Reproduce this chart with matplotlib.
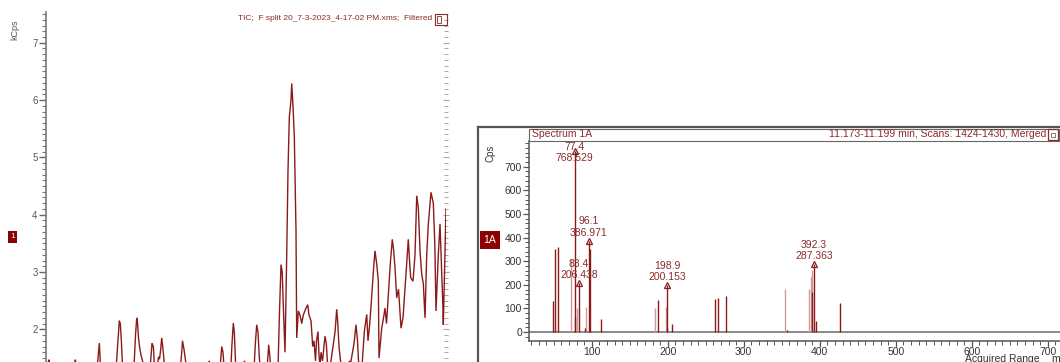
import matplotlib
matplotlib.use("Agg")
import matplotlib.pyplot as plt
from matplotlib.ticker import MultipleLocator, FixedLocator
from matplotlib.patches import Rectangle
from matplotlib.lines import Line2D

plt.rcParams['font.family'] = ['Liberation Sans', 'DejaVu Sans']

# --- TIC chromatogram (retention time in min, intensity in kCps) ---
tic_time = [5.000, 5.075, 5.100, 5.700, 5.733, 5.763, 6.275, 6.333, 6.363, 6.388,
            6.750, 6.800, 6.833, 6.858, 6.888, 6.913, 6.950, 7.075, 7.100, 7.125,
            7.200, 7.238, 7.268, 7.288, 7.313, 7.338, 7.375, 7.413, 7.450, 7.600,
            7.650, 7.683, 7.713, 7.775, 7.813, 7.838, 7.863, 7.893, 7.918, 7.950,
            7.975, 8.350, 8.388, 8.413, 8.450, 8.488, 8.513, 8.538, 9.050, 9.083,
            9.113, 9.350, 9.393, 9.425, 9.450, 9.475, 9.625, 9.650, 9.683, 9.708,
            9.725, 9.743, 9.775, 9.925, 9.963, 9.988, 10.200, 10.238, 10.268, 10.300,
            10.333, 10.363, 10.525, 10.568, 10.600, 10.625, 10.800, 10.833, 10.875, 10.905,
            10.933, 10.975, 11.018, 11.050, 11.083, 11.125, 11.143, 11.175, 11.208, 11.250,
            11.268, 11.308, 11.350, 11.393, 11.433, 11.500, 11.543, 11.575, 11.625, 11.668,
            11.700, 11.738, 11.763, 11.800, 11.825, 11.850, 11.875, 11.913, 11.975, 12.008,
            12.038, 12.075, 12.125, 12.175, 12.225, 12.268, 12.295, 12.325, 12.363, 12.400,
            12.550, 12.588, 12.613, 12.650, 12.700, 12.750, 12.788, 12.813, 12.850, 12.900,
            12.958, 13.018, 13.050, 13.088, 13.125, 13.183, 13.225, 13.268, 13.308, 13.325,
            13.393, 13.438, 13.475, 13.513, 13.575, 13.613, 13.658, 13.688, 13.725, 13.768,
            13.813, 13.875, 13.925, 13.975, 14.013, 14.058, 14.088, 14.118, 14.175, 14.225,
            14.268, 14.308, 14.350, 14.393, 14.433, 14.475, 14.518, 14.558, 14.625, 14.683,
            14.720, 14.750, 14.808, 14.850, 14.888, 14.918, 14.933, 14.975, 15.000]
tic_kcps = [1.30, 1.47, 1.30, 1.30, 1.47, 1.30, 1.30, 1.76, 1.35, 1.30,
            1.30, 1.80, 2.15, 2.10, 1.75, 1.35, 1.30, 1.30, 1.42, 1.30,
            1.35, 1.90, 2.20, 2.12, 1.85, 1.70, 1.55, 1.45, 1.30, 1.30,
            1.76, 1.70, 1.35, 1.30, 1.52, 1.48, 1.62, 1.85, 1.70, 1.45,
            1.30, 1.30, 1.55, 1.80, 1.65, 1.45, 1.35, 1.30, 1.30, 1.45,
            1.30, 1.30, 1.70, 1.60, 1.35, 1.30, 1.40, 1.75, 2.11, 1.95,
            1.65, 1.35, 1.30, 1.30, 1.45, 1.30, 1.30, 1.80, 2.08, 1.95,
            1.50, 1.30, 1.30, 1.73, 1.50, 1.30, 1.30, 2.20, 3.13, 3.00,
            2.40, 1.60, 3.30, 4.77, 5.70, 6.00, 6.29, 5.90, 5.36, 3.72,
            1.85, 2.32, 2.25, 2.10, 2.25, 2.37, 2.43, 2.25, 2.15, 1.70,
            1.80, 1.45, 1.80, 1.96, 1.55, 1.35, 1.60, 1.45, 1.88, 1.75,
            1.40, 1.35, 1.45, 1.70, 1.95, 2.35, 2.10, 1.70, 1.45, 1.30,
            1.30, 1.45, 1.40, 1.55, 1.75, 2.08, 1.80, 1.45, 1.30, 1.35,
            1.96, 2.26, 1.80, 2.05, 2.40, 3.00, 3.37, 3.14, 2.84, 1.50,
            2.02, 2.20, 2.37, 2.10, 2.78, 3.20, 3.57, 3.40, 3.08, 2.55,
            2.70, 2.02, 2.20, 2.70, 3.10, 3.57, 3.20, 2.90, 2.84, 3.30,
            4.33, 4.12, 3.37, 2.96, 2.80, 2.20, 3.30, 3.84, 4.39, 4.20,
            3.50, 2.32, 3.30, 3.84, 3.10, 2.49, 2.08, 3.40, 4.10]

# --- Mass spectrum 1A (m/z, Cps) ---
mz_dark = [49.1, 52.2, 55.7, 77.4, 78.5, 83.4, 91.7, 96.1, 97.8, 112.8,
           187.8, 198.9, 199.6, 205.7, 262.0, 266.0, 276.7, 356.5, 389.5, 392.3,
           394.8, 426.7]
cps_dark = [131, 351, 360, 768.529, 63, 206.438, 17, 386.971, 352, 55,
            135, 200.153, 15, 34, 140, 143, 153, 10, 170, 287.363,
            47, 124]
mz_light = [73.3, 80.0, 93.0, 183.8, 197.4, 354.0, 386.0, 388.0, 390.2]
cps_light = [309, 100, 107, 103, 107, 182, 182, 234, 262]

peak_mz = [77.4, 83.4, 96.1, 198.9, 392.3]
peak_cps = [768.529, 206.438, 386.971, 200.153, 287.363]

dark = '#8b1a1a'
light = '#cf9a9a'
W, H = 1060, 362


def box(x0, y0, x1, y1):
    # pixel box (top-left origin) -> figure fraction rect
    return [x0 / W, 1 - y1 / H, (x1 - x0) / W, (y1 - y0) / H]


fig = plt.figure(figsize=(W / 100, H / 100), dpi=100)

# ---------------- left panel: TIC ----------------
ax1 = fig.add_axes(box(46, 12, 446, 362))
ax1.plot(tic_time, tic_kcps, color=dark, lw=1.0, solid_joinstyle='miter')
ax1.set_xlim(5, 15)
ax1.set_ylim(1.43, 7.536)
for s in ['top', 'right', 'bottom']:
    ax1.spines[s].set_visible(False)
ax1.spines['left'].set_color('#7a7a7a')
ax1.spines['left'].set_linewidth(1.2)
ax1.set_xticks([])
ax1.yaxis.set_major_locator(MultipleLocator(1))
ax1.yaxis.set_minor_locator(MultipleLocator(0.1))
ax1.tick_params(axis='y', which='major', length=5, width=1, color='#666666',
                labelsize=7, labelcolor='#4a5870', pad=1)
ax1.tick_params(axis='y', which='minor', length=3, width=0.8, color='#777777')

axr = ax1.secondary_yaxis('right')
axr.spines['right'].set_visible(False)
axr.yaxis.set_major_locator(MultipleLocator(1))
axr.yaxis.set_minor_locator(MultipleLocator(0.1))
axr.tick_params(axis='y', which='major', direction='inout', length=5, color='#aaaaaa', labelright=False)
axr.tick_params(axis='y', which='minor', direction='inout', length=3, color='#999999')

fig.text(15 / W, 1 - 30 / H, 'kCps', rotation=90, fontsize=6.5, color='#4a5870',
         ha='center', va='center')
fig.text(12.5 / W, 1 - 237 / H, '1', fontsize=6, color='white', ha='center', va='center',
         bbox=dict(boxstyle='square,pad=0.3', fc='#8b0000', ec='none'))
fig.text(432 / W, 1 - 19 / H, 'TIC;  F split 20_7-3-2023_4-17-02 PM.xms;  Filtered',
         fontsize=6.0, color='#8b2a2a', ha='right', va='center')
fig.add_artist(Rectangle((435 / W, 1 - 25 / H), 12 / W, 11 / H, transform=fig.transFigure,
                         fill=False, ec='#8b2a2a', lw=0.8))
fig.add_artist(Rectangle((437 / W, 1 - 23 / H), 4 / W, 7 / H, transform=fig.transFigure,
                         fill=False, ec='#8b2a2a', lw=0.6))

# ---------------- right panel: spectrum ----------------
# outer frame
fig.add_artist(Line2D([478 / W, 478 / W], [0, 1 - 127 / H], transform=fig.transFigure,
                      color='#555555', lw=1.6))
fig.add_artist(Line2D([478 / W, 1], [1 - 127 / H, 1 - 127 / H], transform=fig.transFigure,
                      color='#555555', lw=1.6))
# header strip
fig.add_artist(Rectangle((529 / W, 1 - 140.5 / H), 530 / W, 11.5 / H, transform=fig.transFigure,
                         fill=False, ec='#666666', lw=0.8))
fig.text(532 / W, 1 - 134 / H, 'Spectrum 1A', fontsize=7.5, color='#8b2a2a', ha='left', va='center')
fig.text(1046 / W, 1 - 134 / H, '11.173-11.199 min, Scans: 1424-1430, Merged', fontsize=7.5,
         color='#8b2a2a', ha='right', va='center')
fig.add_artist(Rectangle((1048 / W, 1 - 140 / H), 10 / W, 11 / H, transform=fig.transFigure,
                         fill=False, ec='#8b2a2a', lw=0.9))
fig.add_artist(Rectangle((1051 / W, 1 - 136.5 / H), 4 / W, 4 / H, transform=fig.transFigure,
                         fill=False, ec='#666666', lw=0.6))

ax2 = fig.add_axes(box(529, 140.5, 1060, 341))
ax2.axhline(0, color='#8a8a8a', lw=1.4, zorder=1)
ax2.vlines(mz_light, 0, cps_light, color=light, lw=1.0, zorder=2)
ax2.vlines(mz_dark, 0, cps_dark, color=dark, lw=1.0, zorder=3)
ax2.set_xlim(17.5, 716)
ax2.set_ylim(-38, 811)
for s in ['top', 'right']:
    ax2.spines[s].set_visible(False)
for s in ['left', 'bottom']:
    ax2.spines[s].set_color('#555555')
    ax2.spines[s].set_linewidth(1.1)
ax2.xaxis.set_major_locator(MultipleLocator(100))
ax2.xaxis.set_minor_locator(MultipleLocator(10))
ax2.yaxis.set_major_locator(FixedLocator([0, 100, 200, 300, 400, 500, 600, 700]))
ax2.yaxis.set_minor_locator(MultipleLocator(20))
ax2.tick_params(which='major', length=4, width=0.9, color='#555555', labelsize=7.5,
                labelcolor='#333333', pad=1)
ax2.tick_params(axis='x', which='major', pad=0)
ax2.tick_params(which='minor', length=3, width=0.7, color='#555555')

for mz, c in zip(peak_mz, peak_cps):
    ax2.plot([mz], [c], marker='^', ms=4, mfc='none', mec=dark, mew=0.9, zorder=4)
    if c > 700:
        ax2.text(mz, 805, f'{mz:.1f}\n{c:.3f}', fontsize=7.5, color='#8b2a2a', ha='center',
                 va='top', linespacing=1.15, zorder=5)
    else:
        ax2.annotate(f'{mz:.1f}\n{c:.3f}', (mz, c), xytext=(0, 3), textcoords='offset pixels',
                     fontsize=7.5, color='#8b2a2a', ha='center', va='bottom', linespacing=1.15,
                     zorder=5)

fig.text(490 / W, 1 - 153 / H, 'Cps', rotation=90, fontsize=7, color='#333333',
         ha='center', va='center')
fig.text(490 / W, 1 - 240 / H, '1A', fontsize=7.5, color='white', ha='center', va='center',
         bbox=dict(boxstyle='square,pad=0.35', fc='#8b0000', ec='none'))
fig.text(965 / W, 1 - 358.5 / H, 'Acquired Range', fontsize=7.5, color='#333333', ha='left', va='center')
fig.text(1051 / W, 1 - 358.5 / H, 'm/z', fontsize=7.5, color='#333333', ha='left', va='center')

fig.savefig('out.png', dpi=100)
